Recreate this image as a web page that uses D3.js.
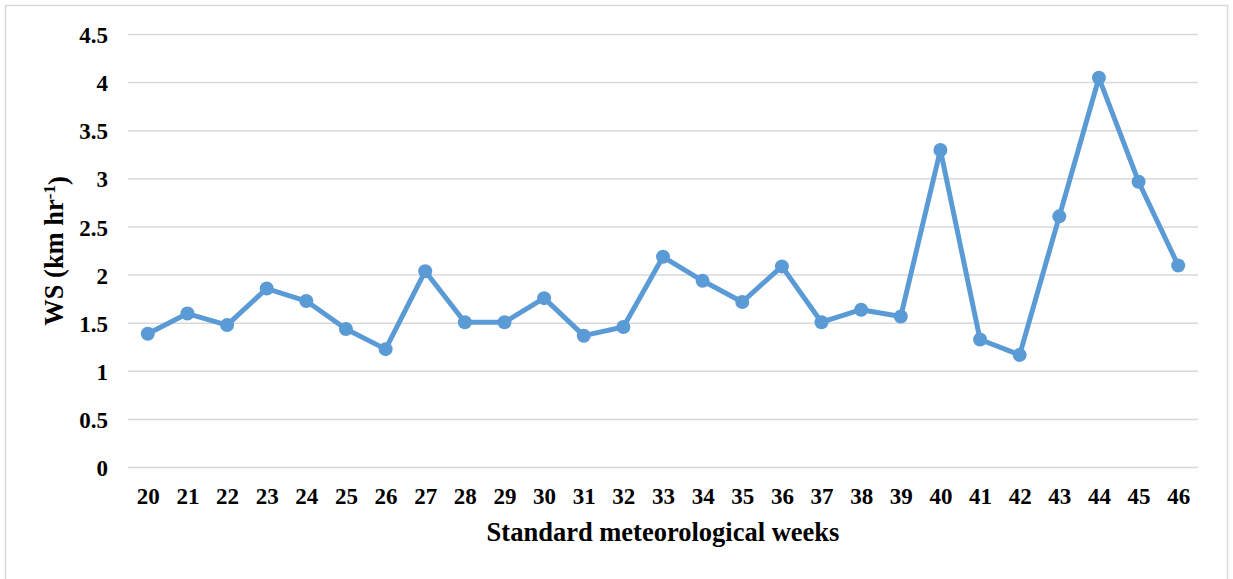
<!DOCTYPE html>
<html>
<head>
<meta charset="utf-8">
<script src="https://cdn.jsdelivr.net/npm/d3@7"></script>
<style>
  body { margin: 0; background: #fff; }
  text { font-family: "Liberation Serif", "Times New Roman", serif; font-weight: bold; fill: #000; }
</style>
</head>
<body>
<svg></svg>
<script>
const weeks = [20, 21, 22, 23, 24, 25, 26, 27, 28, 29, 30, 31, 32, 33, 34, 35, 36, 37, 38, 39, 40, 41, 42, 43, 44, 45, 46];
const windSpeed = [1.39, 1.60, 1.48, 1.86, 1.73, 1.44, 1.23, 2.04, 1.51, 1.51, 1.76, 1.37, 1.46, 2.19, 1.94, 1.72, 2.09, 1.51, 1.64, 1.57, 3.30, 1.33, 1.17, 2.61, 4.05, 2.97, 2.10];
const yTicks = [0, 0.5, 1, 1.5, 2, 2.5, 3, 3.5, 4, 4.5];

const size = {w: 1233, h: 579};
const plot = {l: 128, r: 1198, t: 34.5, b: 467.5};
const svg = d3.select('svg')
    .attr('width', size.w)
    .attr('height', size.h);

// chart border
svg.append('rect')
    .attr('x', 5.5).attr('y', 5.5)
    .attr('width', 1222).attr('height', 580)
    .attr('fill', 'none')
    .attr('stroke', '#d9d9d9')
    .attr('stroke-width', 1.5);

const x = d3.scalePoint()
    .domain(weeks)
    .range([plot.l, plot.r])
    .padding(0.5);

const y = d3.scaleLinear()
    .domain([0, 4.5])
    .range([plot.b, plot.t]);

// gridlines
svg.append('g')
    .selectAll('line')
    .data(yTicks)
    .enter()
    .append('line')
    .attr('x1', plot.l).attr('x2', plot.r)
    .attr('y1', d => y(d)).attr('y2', d => y(d))
    .attr('stroke', '#d9d9d9')
    .attr('stroke-width', 1.5);

// y axis labels
const yAxis = svg.append('g')
    .attr('transform', 'translate(' + (plot.l - 20) + ',0)')
    .call(d3.axisLeft(y).tickValues(yTicks).tickSize(0).tickPadding(0).tickFormat(d => d));
yAxis.select('.domain').remove();
yAxis.selectAll('text')
    .style('font-size', '23px')
    .attr('font-family', null)
    .attr('dy', '0.35em');

// x axis labels
const xAxis = svg.append('g')
    .attr('transform', 'translate(0,' + plot.b + ')')
    .call(d3.axisBottom(x).tickSize(0).tickPadding(20));
xAxis.select('.domain').remove();
xAxis.selectAll('text')
    .style('font-size', '23px')
    .attr('font-family', null);

// axis titles
svg.append('text')
    .attr('x', (plot.l + plot.r) / 2)
    .attr('y', 541)
    .attr('text-anchor', 'middle')
    .style('font-size', '26.5px')
    .text('Standard meteorological weeks');

const yTitle = svg.append('text')
    .attr('transform', 'translate(63,' + ((plot.t + plot.b) / 2) + ') rotate(-90)')
    .attr('text-anchor', 'middle')
    .style('font-size', '26.5px');
yTitle.append('tspan').text('WS (km hr');
yTitle.append('tspan').attr('dy', '-0.45em').style('font-size', '17px').text('-1');
yTitle.append('tspan').attr('dy', '0.45em').text(')');

// the series
const line = d3.line()
    .x((d, i) => x(weeks[i]))
    .y(d => y(d));

svg.append('path')
    .datum(windSpeed)
    .attr('d', line)
    .attr('fill', 'none')
    .attr('stroke', '#5b9bd5')
    .attr('stroke-width', 5)
    .attr('stroke-linejoin', 'round');

svg.append('g')
    .selectAll('circle')
    .data(windSpeed)
    .enter()
    .append('circle')
    .attr('cx', (d, i) => x(weeks[i]))
    .attr('cy', d => y(d))
    .attr('r', 7)
    .attr('fill', '#5b9bd5');
</script>
</body>
</html>
